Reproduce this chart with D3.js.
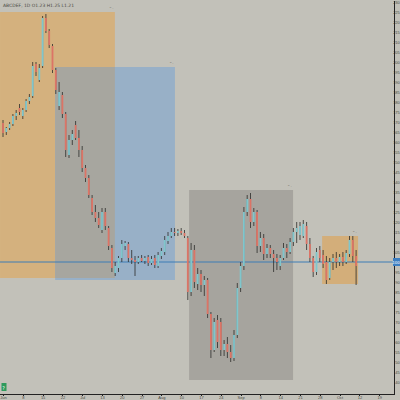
<!DOCTYPE html>
<meta charset="utf-8">
<style>
    body { margin: 0; background: #c2c1b9; }
    svg { display: block; font-family: "DejaVu Sans", sans-serif; }
    .axis text { fill: #4a4a44; font-size: 4px; }
    .axis path, .axis line { stroke: #222; shape-rendering: crispEdges; }
</style>
<body>
<script src="https://d3js.org/d3.v7.min.js"></script>
<script>
    // candles: [open, high, low, close]
    var candles = [
        [169.5,171,162.5,164.5],[165,167.5,163.5,167],[167,170,166,169],[169,174,168,173],
        [173,176,171,174.5],[177,179,173.5,175],[173,177,171.5,176],[176,181.5,175,180.5],
        [180.5,184,179,182.5],[183,200,182,198],[199,200,193,195],[191,199,190,197],
        [198,223,197,222],[222,224,214.5,215.5],[215.5,216.5,207,208.5],[208,209,194.5,196],
        [196,197,184,186],[178,190,176,185],[183.5,185,172,174],[174,175,152.5,156],
        [153.5,163.5,152,161],[161,166,158.5,164],[168.5,170.5,161,162],[162,166,152.5,156],
        [156,158,145,147],[147,148.5,140,142],[142,143.5,132,133.5],[132,133.5,123.5,125],
        [125,128.5,120,122],[122,125,117,118.5],[116,127,114.5,125],[125,127,116,118],
        [117,118,106,108],[107,108.5,95,97],[94.5,100,93,98],[97,103,95,102],
        [102,111,100,109],[108,110.5,106,109.5],[109,110,100,102],[102,106,99,101],
        [101,103,93,100],[100,103,99,102],[102,103.5,100,100.5],[100.5,103,99,102],
        [102.5,103.5,98,99.5],[99.5,103,98.5,101.5],[102,103.5,97,98.5],[98,105,97,103.5],
        [103,107,101.5,105.5],[105,113,103.5,111],[110.5,115,109,113],[113,117,112,115],
        [115,117,113,114.5],[114.5,116.5,113,115.5],[115.5,117,113.5,114.5],[114.5,116,112,113],
        [112,113,81,85],[85,109.5,83,106],[106,108.5,87,90],[89,97,86,94],
        [94,96,85,88.5],[88.5,93,83,91],[91,92,72,74],[74,75,52,56],
        [56,72,55,70],[71,73.5,57,60],[70,72,53,56],[56,61,53,59],
        [59,62.5,52,55],[55,58.5,50,52],[52,66,50.5,63.5],[63.5,89.5,62,87],
        [87,100,85,98],[98,127.5,96,125],[125,133.5,123,131.5],[131.5,134.5,117,120],
        [120,127,118,125],[125,126,104.5,108],[108,115,105,112],[112,114,101,104],
        [104,109,102,107],[107,108.5,102,104],[104,106,95,102],[102,104,96,100],
        [98,103.5,96,102],[102,109.5,101,107],[107,109,102,105],[105,112,104,110],
        [110,117,108,115],[115,120,109.5,117],[113.5,120,111,118],[113,121,112,119],
        [118,120,106,109],[109,112,100,102],[102,103,92.5,95],[95,107,93.5,105],
        [106,108,100,102],[103.5,106,97,99],[100,103,89,91],[92,102,91,100],
        [100,104,96,102],[102,105,97,100],[100,104,98,102.5],[102.5,105,98,100],
        [100,106,99,104.5],[104,113,102.5,111],[111,113,100,103],[103,106,88.5,98]
    ];

    // highlighted zones: [fromIndex, toIndex, topPrice, bottomPrice]
    var zoneOrange = [-0.9, 33.9, 225, 92];
    var zoneBlue = [15.8, 52.1, 197.5, 91];
    var zoneGray = [56.4, 87.9, 136, 41];
    var zoneSmall = [96.7, 107.6, 113, 89];

    var refPrice = 100;
    var priceTicks = d3.range(40, 231, 5);
    var dateTicks = [0, 6, 12, 18, 24, 30, 36, 42, 48, 54, 60, 66, 72, 78, 84, 90, 96, 102, 108, 114];
    var dateLabels = ["Jun","8","15","22","Jul","13","20","27","Aug","10","17","24","Sep","8","14","21","28","Oct","12","19"];
    var title = "ABCDEF, 1D  O1.23 H1.25 L1.21";

    var W = 400, H = 400;
    var svg = d3.select("body").append("svg").attr("width", W).attr("height", H);

    var x = d3.scaleLinear().domain([0, 107]).range([3, 356.1]);
    var y = d3.scaleLinear().domain([34.5, 231]).range([393, 0]);

    function zone(z, fill) {
        svg.append("rect")
            .attr("x", x(z[0])).attr("y", y(z[2]))
            .attr("width", x(z[1]) - x(z[0]))
            .attr("height", y(z[3]) - y(z[2]))
            .attr("fill", fill);
    }
    zone(zoneOrange, "#d4b17e");
    zone(zoneBlue, "#98b0c7");
    // where blue covers orange
    zone([zoneBlue[0], zoneOrange[1], Math.min(zoneOrange[2], zoneBlue[2]), Math.max(zoneOrange[3], zoneBlue[3])], "#a7a69f");
    zone(zoneGray, "#a6a49e");
    zone(zoneSmall, "#d3ae7a");

    // small labels at zone corners
    [zoneOrange, zoneBlue, zoneGray, zoneSmall].forEach(function(z) {
        svg.append("text")
            .attr("x", x(z[1]) - 6).attr("y", y(z[2]) - 2)
            .attr("font-size", 4).attr("fill", "#7a776e")
            .text("⌃·");
    });

    // reference line
    svg.append("line")
        .attr("x1", 0).attr("x2", 394)
        .attr("y1", y(refPrice)).attr("y2", y(refPrice))
        .attr("stroke", "#3d7db5").attr("stroke-width", 1);

    // candles
    var g = svg.append("g");
    g.selectAll(".wick").data(candles).enter().append("line")
        .attr("x1", function(d, i) { return x(i); })
        .attr("x2", function(d, i) { return x(i); })
        .attr("y1", function(d) { return y(d[1]); })
        .attr("y2", function(d) { return y(d[2]); })
        .attr("stroke", "#2c2c2a").attr("stroke-width", 0.8);
    g.selectAll(".body").data(candles).enter().append("rect")
        .attr("x", function(d, i) { return x(i) - 0.9; })
        .attr("width", 1.8)
        .attr("y", function(d) { return y(Math.max(d[0], d[3])); })
        .attr("height", function(d) { return Math.max(1, Math.abs(y(d[0]) - y(d[3]))); })
        .attr("fill", function(d) { return d[3] >= d[0] ? "#80c6cc" : "#dc7466"; });

    // axes
    var yAxis = d3.axisRight(y).tickValues(priceTicks).tickSize(0).tickPadding(0)
        .tickFormat(function(d) { return d; });
    var ya = svg.append("g").attr("class", "axis").attr("transform", "translate(394,0)").call(yAxis);
    ya.select(".domain").attr("stroke", "#6b6a64");
    ya.selectAll("text").attr("x", 5.8).attr("text-anchor", "end");

    var xAxis = d3.axisBottom(x).tickValues(dateTicks).tickSize(1.5).tickPadding(0.5)
        .tickFormat(function(d, i) { return dateLabels[i]; });
    svg.append("g").attr("class", "axis").attr("transform", "translate(0,394)").call(xAxis)
        .select(".domain").attr("d", "M0,0.5H394.5V-393");

    // price tag for the reference line
    svg.append("rect").attr("x", 393).attr("y", y(refPrice) - 4).attr("width", 7).attr("height", 8)
        .attr("fill", "#3d7fc2");
    svg.append("text").attr("x", 399.8).attr("y", y(refPrice) + 1.5).attr("font-size", 4)
        .attr("text-anchor", "end").attr("fill", "#fff").text(refPrice);

    // title
    svg.append("text").attr("x", 3).attr("y", 7).attr("font-size", 4.5).attr("fill", "#4a4a44").text(title);

    // corner badge
    svg.append("rect").attr("x", 1.5).attr("y", 383).attr("width", 5).attr("height", 8).attr("fill", "#2f9a5c");
    svg.append("text").attr("x", 2.3).attr("y", 389.5).attr("font-size", 5).attr("fill", "#fff").text("?");
</script>
